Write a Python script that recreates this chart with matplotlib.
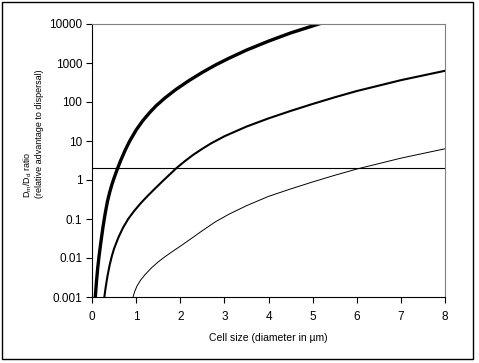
import matplotlib
matplotlib.use("Agg")
import matplotlib.pyplot as plt
from matplotlib.patches import Rectangle
from matplotlib.ticker import FixedLocator, FixedFormatter, NullLocator

plt.rcParams['font.family'] = ['Liberation Sans', 'DejaVu Sans']

# thick curve
x_thick = [0.075, 0.10, 0.13, 0.16, 0.20, 0.25, 0.30, 0.35, 0.40, 0.45, 0.50, 0.57,
           0.65, 0.75, 0.85, 1.00, 1.15, 1.30, 1.45, 1.65, 1.90, 2.20, 2.50, 2.80,
           3.10, 3.50, 4.00, 4.50, 5.00, 5.25]
y_thick = [0.001, 0.0024, 0.0056, 0.0112, 0.025, 0.063, 0.141, 0.282, 0.479, 0.759,
           1.12, 1.86, 3.16, 5.75, 9.77, 19.1, 33.1, 52.5, 79.4, 126, 209, 355, 575,
           891, 1318, 2138, 3631, 5888, 8913, 10965]

# medium curve
x_mid = [0.28, 0.31, 0.35, 0.40, 0.45, 0.50, 0.60, 0.70, 0.82, 0.95, 1.10, 1.25,
         1.40, 1.60, 1.75, 1.91, 2.10, 2.30, 2.50, 2.70, 3.00, 3.50, 4.00, 4.50,
         5.00, 5.50, 6.00, 6.50, 7.00, 7.50, 8.00]
y_mid = [0.001, 0.00178, 0.00339, 0.0066, 0.0112, 0.0174, 0.0339, 0.0589, 0.1, 0.158,
         0.251, 0.380, 0.562, 0.933, 1.35, 2.0, 3.02, 4.47, 6.31, 8.71, 13.2, 23.4,
         38.0, 58.9, 89.1, 132, 191, 263, 363, 479, 631]

# thin curve
x_thin = [0.93, 0.97, 1.02, 1.10, 1.20, 1.35, 1.50, 1.65, 1.80, 2.00, 2.20, 2.50,
          2.80, 3.10, 3.50, 4.00, 4.50, 5.00, 5.50, 6.00, 6.50, 7.00, 7.50, 8.00]
y_thin = [0.001, 0.00141, 0.00191, 0.00269, 0.00372, 0.00562, 0.00794, 0.0107, 0.0141,
          0.02, 0.0288, 0.0501, 0.0851, 0.132, 0.219, 0.380, 0.589, 0.891, 1.32, 1.91,
          2.63, 3.63, 4.79, 6.31]

# reference ratio line
ref_x = [0, 8]
ref_y = [2, 2]

y_ticks = [0.001, 0.01, 0.1, 1, 10, 100, 1000, 10000]
y_labels = ["0.001", "0.01", "0.1", "1", "10", "100", "1000", "10000"]
x_ticks = [0, 1, 2, 3, 4, 5, 6, 7, 8]

fig = plt.figure(figsize=(4.79, 3.63), dpi=100)
ax = fig.add_axes([92 / 479, 1 - 297 / 363, 353 / 479, 273 / 363])

ax.plot(ref_x, ref_y, color="black", lw=0.8)
ax.plot(x_thin, y_thin, color="black", lw=0.7, solid_joinstyle="round")
ax.plot(x_mid, y_mid, color="black", lw=1.5, solid_joinstyle="round")
ax.plot(x_thick, y_thick, color="black", lw=2.4, solid_joinstyle="round")

ax.set_yscale("log")
ax.set_xlim(0, 8)
ax.set_ylim(0.001, 10000)
ax.yaxis.set_major_locator(FixedLocator(y_ticks))
ax.yaxis.set_major_formatter(FixedFormatter(y_labels))
ax.yaxis.set_minor_locator(NullLocator())
ax.set_xticks(x_ticks)
ax.set_xticklabels([str(v) for v in x_ticks])

ax.tick_params(axis="both", direction="out", length=4, width=0.8, labelsize=8.5, pad=3)
ax.tick_params(axis="x", pad=6)
for side in ["top", "right"]:
    ax.spines[side].set_color("#808080")
    ax.spines[side].set_linewidth(0.8)
for side in ["left", "bottom"]:
    ax.spines[side].set_color("black")
    ax.spines[side].set_linewidth(0.8)

ax.set_xlabel("Cell size (diameter in µm)", fontsize=7.5, labelpad=7)
# y label: two lines, starting at the same height
fig.text(33 / 479, 1 - 134 / 363,
         "D$\\mathregular{_m}$/D$\\mathregular{_d}$ ratio\n(relative advantage to dispersal)",
         rotation=90, ha="center", va="center", multialignment="left",
         fontsize=6.5, linespacing=1.1)

fig.patches.append(Rectangle((2 / 479, 4 / 363), 471 / 479, 357 / 363,
                             transform=fig.transFigure, fill=False,
                             edgecolor="black", lw=1.0))

fig.savefig("out.png", dpi=100)
